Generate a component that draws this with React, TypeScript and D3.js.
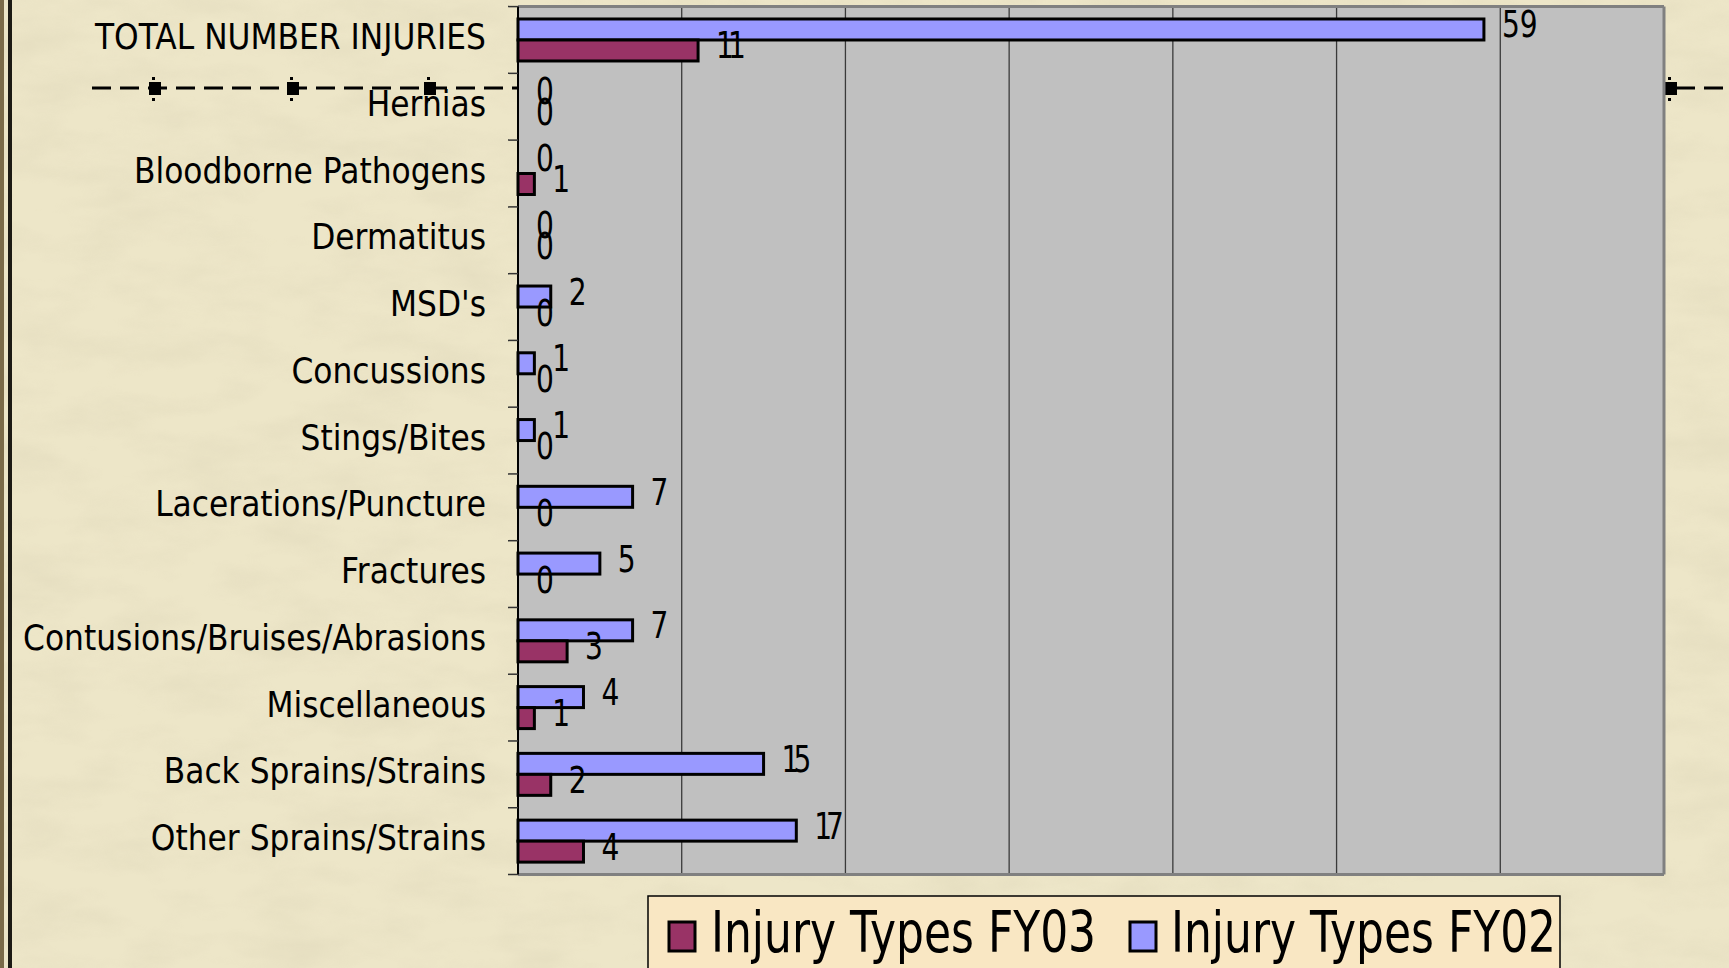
import React from "react";
import * as d3 from "d3";

const categories = [
  "TOTAL NUMBER INJURIES",
  "Hernias",
  "Bloodborne Pathogens",
  "Dermatitus",
  "MSD's",
  "Concussions",
  "Stings/Bites",
  "Lacerations/Puncture",
  "Fractures",
  "Contusions/Bruises/Abrasions",
  "Miscellaneous",
  "Back Sprains/Strains",
  "Other Sprains/Strains",
];
const fy02 = [59, 0, 0, 0, 2, 1, 1, 7, 5, 7, 4, 15, 17];
const fy03 = [11, 0, 1, 0, 0, 0, 0, 0, 0, 3, 1, 2, 4];
const seriesKeys = ["FY02", "FY03"];
const legendLabels = ["Injury Types FY03", "Injury Types FY02"];

const W = 1729;
const H = 968;
const PL = 518, PR = 1664, PT = 6.6, PB = 874.5;
const BLUE = "#9999FF";
const MAROON = "#993366";

export default function App() {
  const x = d3.scaleLinear().domain([0, 70]).range([PL, PR]);
  const y = d3.scaleBand<string>().domain(categories).range([PT, PB]).paddingInner(0).paddingOuter(0);
  const ys = d3.scaleBand<string>().domain(seriesKeys).range([0, y.bandwidth()]).paddingInner(0).paddingOuter(0.59);
  const grid = x.ticks(7).filter((t) => t > 0 && t < 70);
  const tickYs = [...categories.map((c) => y(c) as number), PB];
  const font = "'DejaVu Sans', sans-serif";
  const series = [
    { key: "FY02", values: fy02, color: BLUE },
    { key: "FY03", values: fy03, color: MAROON },
  ];
  const squaresLeft = [155, 293, 430];
  return (
    <svg width={W} height={H} style={{ position: "absolute", left: 0, top: 0 }}>
      <defs>
        <filter id="paper" x="0" y="0" width="100%" height="100%">
          <feTurbulence type="fractalNoise" baseFrequency="0.012 0.03" numOctaves={4} seed={3} result="n" />
          <feColorMatrix type="matrix" values="0 0 0 0 0.55  0 0 0 0 0.5  0 0 0 0 0.35  0 0 0 0.9 -0.35" />
        </filter>
      </defs>
      <rect x={0} y={0} width={W} height={H} fill="#EDE6C8" />
      <rect x={0} y={0} width={W} height={H} filter="url(#paper)" opacity={0.35} />
      {/* left frame */}
      <rect x={0} y={0} width={4} height={H} fill="#7a6a48" />
      <rect x={8} y={0} width={4} height={H} fill="#1c1a14" />

      {/* decorative dashed line */}
      <line x1={92} x2={PL} y1={88} y2={88} stroke="#000" strokeWidth={3} strokeDasharray="19 9" />
      <line x1={PR} x2={W} y1={88} y2={88} stroke="#000" strokeWidth={3} strokeDasharray="19 9" strokeDashoffset={-12} />
      {[...squaresLeft, 1671].map((sx, i) => (
        <g key={i}>
          <rect x={sx - 6} y={82} width={12} height={13} fill="#000" />
          <rect x={sx - 3} y={77} width={3} height={3} fill="#000" />
          <rect x={sx - 3} y={98} width={3} height={3} fill="#000" />
        </g>
      ))}

      {/* plot area */}
      <rect x={PL} y={PT} width={PR - PL} height={PB - PT} fill="#C0C0C0" />
      {grid.map((t) => (
        <line key={t} x1={x(t)} x2={x(t)} y1={PT} y2={PB} stroke="#3a3a3a" strokeWidth={1.3} />
      ))}
      <line x1={PL} x2={PR} y1={PT} y2={PT} stroke="#808080" strokeWidth={3} />
      <line x1={PR} x2={PR} y1={PT} y2={PB} stroke="#808080" strokeWidth={3} />
      <line x1={PL} x2={PR} y1={PB} y2={PB} stroke="#808080" strokeWidth={3} />

      {/* bars */}
      {series.map((s) =>
        categories.map((c, i) => {
          const v = s.values[i];
          if (v <= 0) return null;
          const by = (y(c) as number) + (ys(s.key) as number);
          return (
            <rect
              key={s.key + c}
              x={x(0)}
              y={by}
              width={x(v) - x(0)}
              height={ys.bandwidth()}
              fill={s.color}
              stroke="#000"
              strokeWidth={3}
            />
          );
        })
      )}

      {/* axis line and ticks */}
      <line x1={PL} x2={PL} y1={PT} y2={PB} stroke="#000" strokeWidth={2} />
      {tickYs.map((ty, i) => (
        <line key={i} x1={PL - 10} x2={PL} y1={ty} y2={ty} stroke="#333" strokeWidth={1.5} />
      ))}

      {/* value labels */}
      {series.map((s) =>
        categories.map((c, i) => {
          const v = s.values[i];
          const cy = (y(c) as number) + (ys(s.key) as number) + ys.bandwidth() / 2;
          return (
            <text
              key={"l" + s.key + c}
              transform={`translate(${x(v) + 18},${cy + 8}) scale(0.76,1)`}
              fontFamily={font}
              fontSize={37}
              letterSpacing={String(v).startsWith("1") && v >= 10 ? -8 : 0}
              fill="#000"
            >
              {v}
            </text>
          );
        })
      )}

      {/* category labels */}
      {categories.map((c) => (
        <text
          key={"c" + c}
          transform={`translate(486,${(y(c) as number) + y.bandwidth() / 2 + 9}) scale(0.87,1)`}
          textAnchor="end"
          fontFamily={font}
          fontSize={36}
          fill="#000"
        >
          {c}
        </text>
      ))}

      {/* legend */}
      <rect x={648} y={896} width={912} height={100} fill="#F9E7C3" stroke="#000" strokeWidth={1.5} />
      {[
        { label: legendLabels[0], color: MAROON, sx: 669, tx: 711 },
        { label: legendLabels[1], color: BLUE, sx: 1130, tx: 1171 },
      ].map((l) => (
        <g key={l.label}>
          <rect x={l.sx} y={922} width={26} height={29} fill={l.color} stroke="#000" strokeWidth={3} />
          <text
            transform={`translate(${l.tx},952) scale(0.765,1)`}
            fontFamily={font}
            fontSize={57.5}
            fill="#000"
          >
            {l.label}
          </text>
        </g>
      ))}
    </svg>
  );
}
